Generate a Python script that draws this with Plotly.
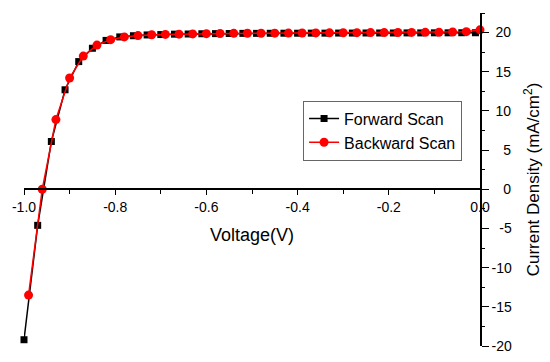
import plotly.graph_objects as go

# Data
forward_v = [-1.00, -0.97, -0.94, -0.91, -0.88, -0.85, -0.82, -0.79, -0.76, -0.73,
             -0.70, -0.67, -0.64, -0.61, -0.58, -0.55, -0.52, -0.49, -0.46, -0.43,
             -0.40, -0.37, -0.34, -0.31, -0.28, -0.25, -0.22, -0.19, -0.16, -0.13,
             -0.10, -0.07, -0.04, -0.01]
forward_j = [-19.2, -4.6, 6.1, 12.7, 16.3, 18.0, 19.0, 19.45, 19.6, 19.7,
             19.75, 19.8, 19.82, 19.85, 19.87, 19.88, 19.9, 19.9, 19.91, 19.92,
             19.92, 19.93, 19.93, 19.94, 19.94, 19.95, 19.95, 19.95, 19.96, 19.96,
             19.97, 19.97, 19.98, 19.98]

backward_v = [-0.99, -0.96, -0.93, -0.90, -0.87, -0.84, -0.81, -0.78, -0.75, -0.72,
              -0.69, -0.66, -0.63, -0.60, -0.57, -0.54, -0.51, -0.48, -0.45, -0.42,
              -0.39, -0.36, -0.33, -0.30, -0.27, -0.24, -0.21, -0.18, -0.15, -0.12,
              -0.09, -0.06, -0.03, 0.00]
backward_j = [-13.5, 0.0, 8.9, 14.2, 17.0, 18.4, 19.1, 19.45, 19.62, 19.72,
              19.77, 19.8, 19.83, 19.86, 19.88, 19.9, 19.91, 19.92, 19.93, 19.94,
              19.95, 19.96, 19.97, 19.98, 19.99, 20.0, 20.0, 20.01, 20.02, 20.03,
              20.05, 20.07, 20.12, 20.35]

x_tickvals = [-1.0, -0.8, -0.6, -0.4, -0.2, 0.0]
x_ticktext = ["-1.0", "-0.8", "-0.6", "-0.4", "-0.2", "0.0"]
y_tickvals = [-20, -15, -10, -5, 0, 5, 10, 15, 20]
y_ticktext = ["-20", "-15", "-10", "\u00a0\u00a0-5", "\u00a0\u00a0\u00a00",
              "\u00a0\u00a0\u00a05", "\u00a010", "\u00a015", "\u00a020"]

x_range = [-1.0, 0.0]
y_range = [-20, 22.5]

FONT = "Liberation Sans, Arial, sans-serif"

fig = go.Figure()
fig.add_trace(go.Scatter(
    x=forward_v, y=forward_j, name="Forward Scan", mode="lines+markers",
    line=dict(color="black", width=1.5),
    marker=dict(symbol="square", size=7, color="black"),
    cliponaxis=False))
fig.add_trace(go.Scatter(
    x=backward_v, y=backward_j, name="Backward Scan", mode="lines+markers",
    line=dict(color="red", width=1.5),
    marker=dict(symbol="circle", size=9, color="red"),
    cliponaxis=False))

fig.update_layout(
    width=550, height=362,
    margin=dict(l=24, r=70, t=13, b=16, autoexpand=False),
    paper_bgcolor="white", plot_bgcolor="white",
    font=dict(family=FONT, size=14, color="black"),
    showlegend=True,
    legend=dict(x=0.612, y=0.737, xanchor="left", yanchor="top",
                bordercolor="#666666", borderwidth=1, bgcolor="white",
                font=dict(family=FONT, size=16, color="black"),
                tracegroupgap=0, itemwidth=30),
    xaxis=dict(
        range=x_range, domain=[0, 1], anchor="free", automargin=False,
        position=(0 - y_range[0]) / (y_range[1] - y_range[0]),
        showline=True, linecolor="black", linewidth=1.5,
        showgrid=False, zeroline=False,
        ticks="outside", ticklen=5, tickwidth=1.2, tickcolor="black",
        tickvals=x_tickvals, ticktext=x_ticktext,
        tickfont=dict(family=FONT, size=14),
        minor=dict(ticks="outside", dtick=0.1, ticklen=4, tickwidth=1.2,
                   tickcolor="black", showgrid=False),
        title=dict(text="Voltage(V)", font=dict(family=FONT, size=18), standoff=14),
    ),
    yaxis=dict(
        range=y_range, domain=[0, 1], side="right", anchor="x", automargin=False,
        showline=True, linecolor="black", linewidth=1.5,
        showgrid=False, zeroline=False,
        ticks="outside", ticklen=7, tickwidth=1.2, tickcolor="black",
        tickvals=y_tickvals, ticktext=y_ticktext,
        tickfont=dict(family=FONT, size=14),
        minor=dict(ticks="outside", dtick=2.5, ticklen=3, tickwidth=1.2,
                   tickcolor="black", showgrid=False),
        title=dict(text="Current Density (mA/cm<sup>2</sup>)",
                   font=dict(family=FONT, size=17), standoff=16),
    ),
)

fig.write_html("out.html", config={"displayModeBar": False},
               post_script="document.body.style.margin='0';document.body.style.padding='0';")
